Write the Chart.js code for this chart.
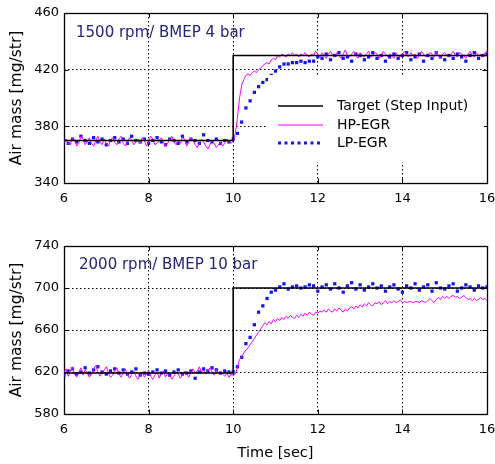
<!DOCTYPE html>
<html>
<head>
<meta charset="utf-8">
<script src="https://cdn.jsdelivr.net/npm/chart.js@4.4.1/dist/chart.umd.min.js"></script>
<style>
  html, body { margin: 0; padding: 0; background: #fff; }
  body { width: 495px; height: 464px; position: relative; overflow: hidden; }
  canvas { position: absolute; left: 0; }
  #c1 { top: 0; }
  #c2 { top: 230px; }
</style>
</head>
<body>
<canvas id="c1" width="495" height="205"></canvas>
<canvas id="c2" width="495" height="234"></canvas>
<script>
// ---------- sampling grid ----------
const TIME_START = 6;
const HP_STEP = 0.05;   // HP-EGR samples every 0.05 s
const LP_STEP = 0.1;    // LP-EGR samples every 0.1 s

// ---------- tick labels ----------
const xTicks = [6, 8, 10, 12, 14, 16];
const yTicksTop = [340, 380, 420, 460];
const yTicksBottom = [580, 620, 660, 700, 740];

// ---------- labels ----------
const seriesNames = ['Target (Step Input)', 'HP-EGR', 'LP-EGR'];
const titleTop = '1500 rpm/ BMEP 4 bar';
const titleBottom = '2000 rpm/ BMEP 10 bar';
const yTitle = 'Air mass [mg/str]';
const xTitle = 'Time [sec]';

// ---------- target step (time, value) ----------
const targetTime = [6, 10, 10, 16];
const targetTop = [370, 370, 430, 430];
const targetBottom = [619, 619, 700, 700];

// ---------- top panel: 1500 rpm / BMEP 4 bar ----------
const hpTop = [
  369,371,368,367,372,370,366,368,373,371,367,369,372,368,366,370,373,369,367,371,
  368,366,370,372,369,367,371,373,368,366,369,372,370,367,369,371,368,372,370,366,
  369,373,371,367,368,370,372,369,366,368,371,373,369,367,370,368,372,371,366,369,
  372,370,367,365,368,371,369,366,364,367,370,368,365,367,369,366,368,371,369,368,
  370,375,386,400,409,413,416,417,416,418,419,418,420,421,423,424,425,424,427,428,
  427,430,429,431,430,429,431,430,432,430,431,429,431,430,432,430,429,431,430,433,
  431,429,432,430,428,431,433,430,429,432,430,428,431,434,430,429,431,433,430,428,
  432,430,429,431,433,429,430,432,431,428,430,433,431,429,431,430,428,432,430,429,
  431,433,430,429,432,430,431,428,430,433,431,429,430,432,431,429,433,430,428,431,
  432,430,429,431,433,430,429,432,431,430,428,431,433,430,429,432,430,431,429,432,433
];
const lpTop = [
  370,368,371,369,373,370,368,372,369,371,
  367,370,372,369,371,368,373,370,369,371,
  368,370,372,369,367,371,370,368,373,369,
  371,370,368,374,370,369,371,368,370,369,
  371,375,383,393,398,404,408,411,413,416,
  419,422,424,424,425,425,426,425,426,426,
  429,428,431,427,430,432,428,429,426,431,
  430,427,429,432,428,430,426,429,431,428,
  430,432,427,429,431,426,430,428,432,429,
  427,430,428,431,429,426,430,432,428,430,431
];

// ---------- bottom panel: 2000 rpm / BMEP 10 bar ----------
const hpBottom = [
  619,623,616,621,625,618,615,620,624,617,622,619,615,618,623,626,620,616,619,622,
  625,619,615,617,621,624,618,615,620,623,617,614,618,621,616,613,617,620,615,618,
  622,616,613,617,620,614,618,621,615,619,617,613,616,620,618,614,617,621,619,615,
  620,623,619,621,625,620,622,618,621,624,620,617,622,619,621,618,616,619,615,618,
  617,618,624,632,635,638,641,643,646,649,652,655,658,661,664,667,665,668,666,670,
  668,671,669,672,670,673,671,674,672,671,674,672,675,673,676,674,677,675,674,677,
  676,678,677,679,677,680,678,677,680,678,681,679,677,680,678,681,682,680,683,681,
  684,682,685,683,686,684,683,686,685,687,684,686,688,685,687,686,688,686,687,689,
  686,687,686,687,687,686,687,687,686,688,687,686,688,690,688,686,689,691,689,692,
  690,692,690,692,693,691,692,690,691,693,691,689,690,688,690,688,689,691,689,690,688
];
const lpBottom = [
  617,621,623,618,620,624,619,622,625,620,
  618,621,623,619,622,618,620,623,617,619,
  618,620,622,619,621,617,620,622,618,619,
  621,614,620,623,621,624,622,619,621,620,
  620,625,634,647,653,665,677,683,690,696,
  698,701,704,699,701,702,700,701,703,702,
  697,701,703,699,704,700,696,702,705,699,
  703,698,701,704,700,702,697,701,703,699,
  696,702,700,704,698,701,703,697,705,700,
  699,702,704,697,700,703,701,698,702,700,701
];

// ---------- helpers ----------
const FONT = '"DejaVu Sans", "Liberation Sans", Arial, sans-serif';
const PINK = '#ff00ff';
const BLUE = '#1414f5';
const NAVY = '#23237f';

function toXY(values, step) {
  return values.map((v, i) => ({ x: +(TIME_START + i * step).toFixed(2), y: v }));
}
function pairXY(xs, ys) {
  return xs.map((x, i) => ({ x: x, y: ys[i] }));
}

// box + inward tick marks
const boxPlugin = {
  id: 'box',
  beforeDatasetsDraw(chart) {
    const { ctx, chartArea: a, scales } = chart;
    ctx.save();
    ctx.strokeStyle = '#000';
    ctx.lineWidth = 1;
    ctx.setLineDash([]);
    ctx.beginPath();
    const L = 4.5;
    scales.x.ticks.forEach(t => {
      const px = Math.round(scales.x.getPixelForValue(t.value)) + 0.5;
      ctx.moveTo(px, a.bottom); ctx.lineTo(px, a.bottom - L);
      ctx.moveTo(px, a.top); ctx.lineTo(px, a.top + L);
    });
    scales.y.ticks.forEach(t => {
      const py = Math.round(scales.y.getPixelForValue(t.value)) + 0.5;
      ctx.moveTo(a.left, py); ctx.lineTo(a.left + L, py);
      ctx.moveTo(a.right, py); ctx.lineTo(a.right - L, py);
    });
    ctx.stroke();
    ctx.lineWidth = 1.3;
    ctx.strokeRect(Math.round(a.left) + 0.5, Math.round(a.top) + 0.5,
                   Math.round(a.right - a.left), Math.round(a.bottom - a.top));
    ctx.restore();
  }
};

// condition label inside the plot
const labelPlugin = {
  id: 'condLabel',
  afterDatasetsDraw(chart, args, opts) {
    const { ctx, chartArea: a } = chart;
    ctx.save();
    ctx.font = '15px ' + FONT;
    ctx.fillStyle = NAVY;
    ctx.textBaseline = 'middle';
    ctx.textAlign = 'left';
    ctx.fillText(opts.text, a.left + opts.dx, a.top + opts.dy);
    ctx.restore();
  }
};

// legend inside the top plot
const innerLegend = {
  id: 'innerLegend',
  afterDatasetsDraw(chart, args, opts) {
    if (!opts.show) return;
    const { ctx, chartArea: a } = chart;
    const bx = a.left + 204, by = a.top + 62;
    ctx.save();
    ctx.fillStyle = '#fff';
    ctx.fillRect(bx, by, 216, 87);
    const rows = [a.top + 93, a.top + 112, a.top + 130];
    const x0 = a.left + 214, x1 = a.left + 259;
    chart.data.datasets.forEach((ds, i) => {
      const y = rows[i];
      ctx.beginPath();
      if (ds.showLine === false) {
        ctx.strokeStyle = ds.pointBackgroundColor;
        ctx.lineWidth = 3;
        ctx.setLineDash([3, 3.5]);
      } else {
        ctx.strokeStyle = ds.borderColor;
        ctx.lineWidth = ds.borderWidth;
        ctx.setLineDash([]);
      }
      ctx.moveTo(x0, y); ctx.lineTo(x1, y);
      ctx.stroke();
      ctx.setLineDash([]);
      ctx.fillStyle = '#000';
      ctx.font = '14px ' + FONT;
      ctx.textBaseline = 'middle';
      ctx.textAlign = 'left';
      ctx.fillText(ds.label, a.left + 273, y);
    });
    ctx.restore();
  }
};

function makeChart(id, tgt, hp, lp, yMin, yMax, cfg) {
  return new Chart(document.getElementById(id), {
    type: 'line',
    data: {
      datasets: [
        { label: seriesNames[0], data: pairXY(targetTime, tgt), borderColor: '#000',
          borderWidth: 1.6, pointRadius: 0, tension: 0 },
        { label: seriesNames[1], data: toXY(hp, HP_STEP), borderColor: PINK,
          borderWidth: 1, pointRadius: 0, tension: 0 },
        { label: seriesNames[2], data: toXY(lp, LP_STEP), showLine: false,
          pointStyle: 'rect', pointRadius: 2.3, pointBorderWidth: 0,
          pointBackgroundColor: BLUE, borderColor: BLUE }
      ]
    },
    options: {
      responsive: false,
      animation: false,
      devicePixelRatio: 1,
      layout: { padding: { top: cfg.padTop, right: 8, left: 0, bottom: 0 } },
      plugins: {
        legend: { display: false },
        tooltip: { enabled: false },
        condLabel: { text: cfg.text, dx: cfg.dx, dy: cfg.dy },
        innerLegend: { show: cfg.legend }
      },
      scales: {
        x: {
          type: 'linear', min: 6, max: 16,
          ticks: { stepSize: 2, color: '#000', font: { family: FONT, size: 13 }, padding: 8,
                   maxRotation: 0, autoSkip: false },
          grid: { color: '#000', lineWidth: 1, drawTicks: false },
          border: { display: false, dash: [1.5, 2.5] },
          title: { display: cfg.xTitle, text: xTitle, color: '#000',
                   font: { family: FONT, size: 14.5 }, padding: { top: 0, bottom: 2 } },
          afterFit(s) { s.height = cfg.xh; s.paddingLeft = 0; s.paddingRight = 0; }
        },
        y: {
          min: yMin, max: yMax,
          ticks: { stepSize: 40, color: '#000', font: { family: FONT, size: 13 }, padding: 5 },
          grid: { color: '#000', lineWidth: 1, drawTicks: false },
          border: { display: false, dash: [1.5, 2.5] },
          title: { display: true, text: yTitle, color: '#000',
                   font: { family: FONT, size: 15.5 }, padding: { top: 8, bottom: 0 } },
          afterFit(s) { s.width = 64; s.paddingTop = 0; s.paddingBottom = 0; }
        }
      }
    },
    plugins: [boxPlugin, innerLegend, labelPlugin]
  });
}

makeChart('c1', targetTop, hpTop, lpTop, yTicksTop[0], yTicksTop[yTicksTop.length - 1],
  { padTop: 13, xh: 22, xTitle: false, text: titleTop, dx: 12, dy: 20, legend: true });
makeChart('c2', targetBottom, hpBottom, lpBottom, yTicksBottom[0], yTicksBottom[yTicksBottom.length - 1],
  { padTop: 16, xh: 50, xTitle: true, text: titleBottom, dx: 15, dy: 19, legend: false });
</script>
</body>
</html>
